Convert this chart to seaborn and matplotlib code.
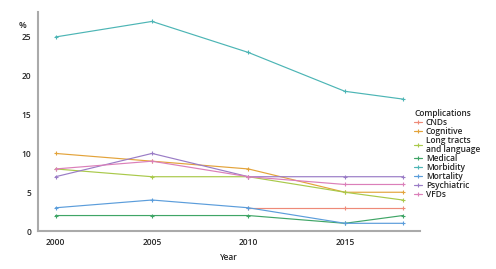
import matplotlib
matplotlib.use("Agg")
import matplotlib.pyplot as plt
import seaborn as sns
import pandas as pd

years = [2000, 2005, 2010, 2015, 2018]
cnds = [None, None, 3, 3, 3]
cognitive = [10, 9, 8, 5, 5]
long_tracts = [8, 7, 7, 5, 4]
medical = [2, 2, 2, 1, 2]
morbidity = [25, 27, 23, 18, 17]
mortality = [3, 4, 3, 1, 1]
psychiatric = [7, 10, 7, 7, 7]
vfds = [8, 9, 7, 6, 6]

series_names = ["CNDs", "Cognitive", "Long tracts\nand language", "Medical",
                "Morbidity", "Mortality", "Psychiatric", "VFDs"]
series_vals = [cnds, cognitive, long_tracts, medical, morbidity, mortality, psychiatric, vfds]
colors = ["#EE8A78", "#E3A33A", "#A9C94A", "#3FA566", "#4CB5B5", "#5B9DDB", "#9A7CC6", "#DB7FB9"]

rows = []
for name, vals in zip(series_names, series_vals):
    for y, v in zip(years, vals):
        if v is not None:
            rows.append({"Year": y, "Value": v, "Complication": name})
df = pd.DataFrame(rows)

sns.set_style("white")
plt.rcParams['font.family'] = ['Open Sans', 'DejaVu Sans']

fig = plt.figure(figsize=(4.96, 2.69), dpi=100)
ax = fig.add_axes([0.077, 0.141, 0.77, 0.814])

sns.lineplot(data=df, x="Year", y="Value", hue="Complication", hue_order=series_names,
             palette=colors, marker="+", markersize=2.8, markeredgewidth=0.8,
             linewidth=0.85, ax=ax)
for ln in ax.get_lines():
    ln.set_markeredgecolor(ln.get_color())

ax.set_xlim(1999.1, 2018.9)
ax.set_ylim(0, 28.2)
ax.set_xticks([2000, 2005, 2010, 2015])
ax.set_yticks([0, 5, 10, 15, 20, 25])
ax.tick_params(axis='both', labelsize=6, length=3, width=0.6, color="#333333", pad=2)
for lab in ax.get_xticklabels() + ax.get_yticklabels():
    lab.set_fontweight("semibold")
ax.spines['top'].set_visible(False)
ax.spines['right'].set_visible(False)
ax.spines['left'].set_color("#aaaaaa")
ax.spines['left'].set_linewidth(1.5)
ax.spines['bottom'].set_color("#aaaaaa")
ax.spines['bottom'].set_linewidth(1.5)
ax.set_xlabel("Year", fontsize=6, fontweight="semibold", labelpad=4)
ax.set_ylabel("")
ax.text(-0.03, 0.94, "%", transform=ax.transAxes, fontsize=6.5, fontweight="semibold",
        ha="right", va="center")

handles, labels = ax.get_legend_handles_labels()
for h in handles:
    h.set_markeredgecolor(h.get_color())
leg = ax.legend(handles, labels, title="Complications", loc="upper left",
          bbox_to_anchor=(0.835, 0.595), bbox_transform=fig.transFigure,
          frameon=False, fontsize=6, title_fontsize=6, handlelength=1.0,
          handletextpad=0.4, labelspacing=0.0, borderaxespad=0, borderpad=0)
leg._legend_box.align = "left"
for t in leg.get_texts():
    t.set_fontweight("semibold")
    t.set_linespacing(0.95)
leg.get_title().set_fontweight("semibold")

fig.savefig("out.png", dpi=100)
